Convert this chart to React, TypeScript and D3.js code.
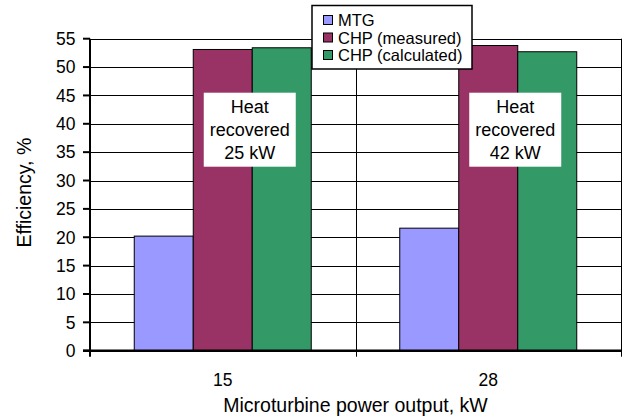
import React from "react";
import * as d3 from "d3";

// Chart data
const categories = ["15", "28"];
const seriesNames = ["MTG", "CHP (measured)", "CHP (calculated)"];
const seriesColors = ["#9999ff", "#993366", "#339966"];
const mtgValues = [20.2, 21.6];
const chpMeasuredValues = [53.1, 53.8];
const chpCalculatedValues = [53.4, 52.7];
const heatRecovered = ["25 kW", "42 kW"];
const yTicks = [0, 5, 10, 15, 20, 25, 30, 35, 40, 45, 50, 55];

const W = 627;
const H = 419;
const margin = { left: 90, right: 6, top: 38.7, bottom: 68.3 };
const FONT = "'Liberation Sans', Arial, sans-serif";

export default function App() {
  const series = [mtgValues, chpMeasuredValues, chpCalculatedValues];
  const x0 = d3
    .scaleBand<string>()
    .domain(categories)
    .range([margin.left, W - margin.right]);
  const x1 = d3
    .scaleBand<number>()
    .domain(d3.range(series.length))
    .range([0, x0.bandwidth()])
    .paddingOuter(0.75)
    .paddingInner(0);
  const y = d3
    .scaleLinear()
    .domain([0, 55])
    .range([H - margin.bottom, margin.top]);

  const left = margin.left;
  const right = W - margin.right;
  const top = y(55);
  const bottom = y(0);

  return (
    <svg
      width={W}
      height={H}
      style={{ position: "absolute", left: 0, top: 0, background: "#fff" }}
      fontFamily={FONT}
    >
      {/* horizontal gridlines */}
      {yTicks.map((t) => (
        <line
          key={"g" + t}
          x1={left}
          x2={right}
          y1={Math.round(y(t)) + 0.5}
          y2={Math.round(y(t)) + 0.5}
          stroke="#000"
          strokeWidth={1}
        />
      ))}
      {/* vertical gridline between categories */}
      <line
        x1={Math.round(x0(categories[1])!) + 0.5}
        x2={Math.round(x0(categories[1])!) + 0.5}
        y1={top}
        y2={bottom + 6}
        stroke="#000"
        strokeWidth={1}
      />
      {/* plot frame */}
      <line x1={right + 0.5} x2={right + 0.5} y1={top} y2={bottom + 6} stroke="#000" strokeWidth={1} />

      {/* bars */}
      {categories.map((c, ci) =>
        series.map((vals, si) => (
          <rect
            key={c + si}
            x={x0(c)! + x1(si)!}
            y={y(vals[ci])}
            width={x1.bandwidth()}
            height={bottom - y(vals[ci])}
            fill={seriesColors[si]}
            stroke="#000"
            strokeWidth={1}
          />
        ))
      )}

      {/* annotation boxes */}
      {categories.map((c, ci) => {
        const cx = x0(c)! + x0.bandwidth() / 2 + 27;
        const by = 92.7;
        return (
          <g key={"ann" + c}>
            <rect x={cx - 46} y={by} width={92} height={74} fill="#fff" />
            {["Heat", "recovered", heatRecovered[ci]].map((t, li) => (
              <text
                key={li}
                x={cx}
                y={by + 20 + li * 23.3}
                textAnchor="middle"
                fontSize={18}
                fill="#000"
              >
                {t}
              </text>
            ))}
          </g>
        );
      })}

      {/* y axis */}
      <line x1={left} x2={left} y1={top} y2={bottom + 6} stroke="#000" strokeWidth={2} />
      {yTicks.map((t) => (
        <g key={"t" + t}>
          <line x1={left - 7} x2={left} y1={y(t)} y2={y(t)} stroke="#000" strokeWidth={2} />
          <text
            x={75.5}
            y={y(t) + 6.3}
            textAnchor="end"
            fontSize={17.5}
            fill="#000"
          >
            {t}
          </text>
        </g>
      ))}
      <text
        transform={`translate(31, ${(top + bottom) / 2 - 2}) rotate(-90)`}
        textAnchor="middle"
        fontSize={19.5}
        fill="#000"
      >
        Efficiency, %
      </text>

      {/* x axis */}
      <line x1={left - 7} x2={right + 1} y1={bottom} y2={bottom} stroke="#000" strokeWidth={2.5} />
      {categories.map((c) => (
        <text
          key={"xl" + c}
          x={x0(c)! + x0.bandwidth() / 2}
          y={386}
          textAnchor="middle"
          fontSize={17.5}
          fill="#000"
        >
          {c}
        </text>
      ))}
      <text x={(left + right) / 2} y={412} textAnchor="middle" fontSize={19.5} fill="#000">
        Microturbine power output, kW
      </text>

      {/* legend */}
      <g>
        <rect x={312} y={5.5} width={160} height={63.5} fill="#fff" stroke="#000" strokeWidth={1.5} />
        {seriesNames.map((n, i) => (
          <g key={n}>
            <rect
              x={323.5}
              y={15.5 + i * 17.5}
              width={9}
              height={9}
              fill={seriesColors[i]}
              stroke="#000"
              strokeWidth={1}
            />
            <text x={338} y={26 + i * 17.5} fontSize={16.5} fill="#000">
              {n}
            </text>
          </g>
        ))}
      </g>
    </svg>
  );
}
